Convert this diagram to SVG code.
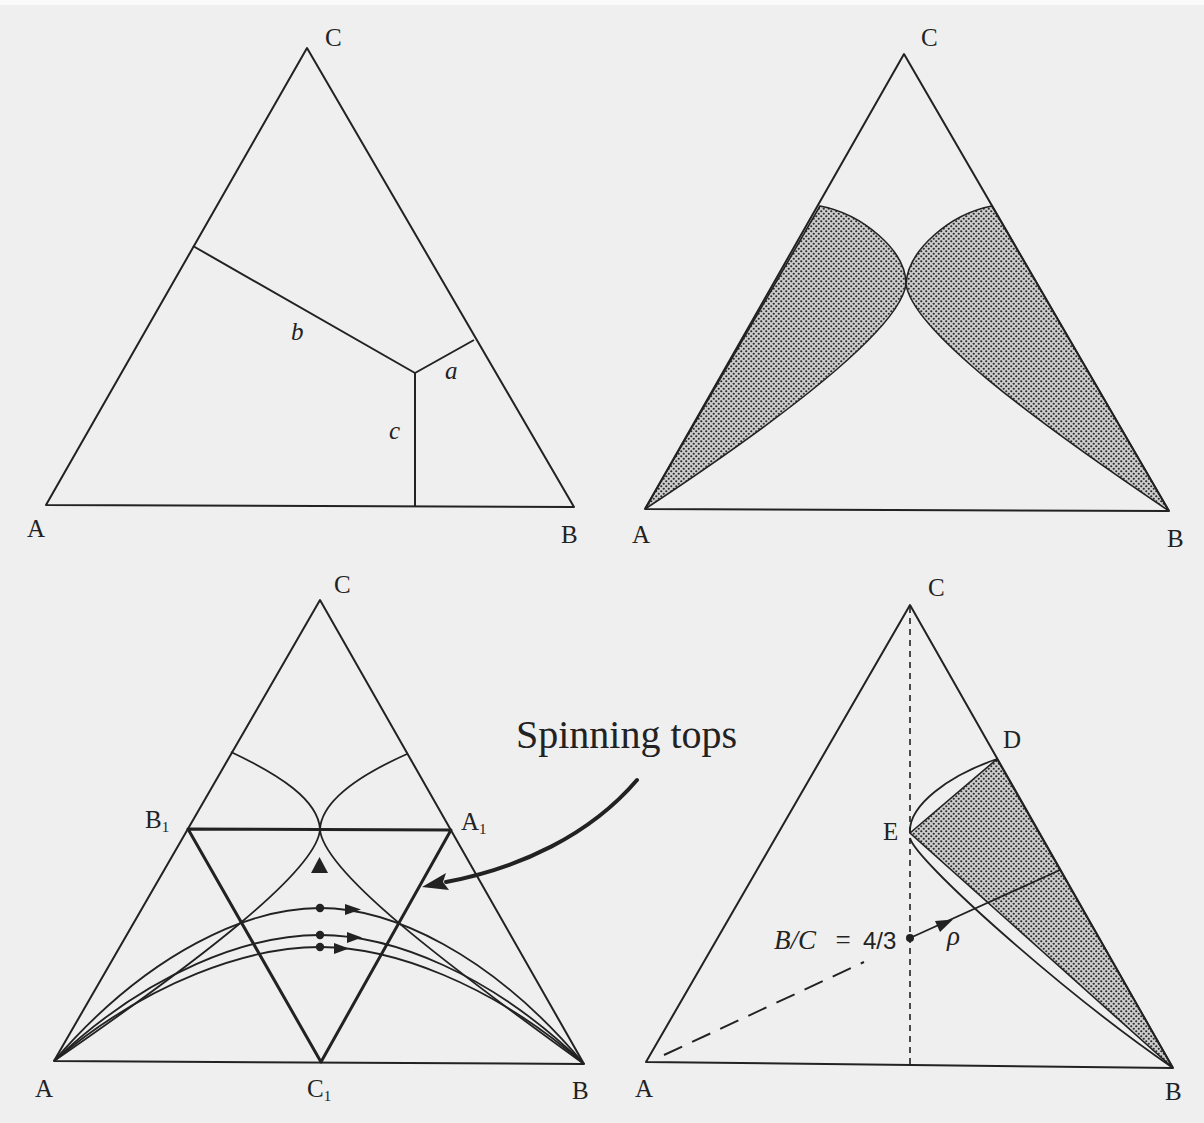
<svg xmlns="http://www.w3.org/2000/svg" width="1204" height="1123" viewBox="0 0 1204 1123">
<style>
.edge{fill:none;stroke:#222;stroke-width:2;stroke-linejoin:round}
.thick{fill:none;stroke:#222;stroke-width:3;stroke-linejoin:round}
.crv{fill:none;stroke:#222;stroke-width:1.8}
.lbl{font-family:"Liberation Serif","Times New Roman",serif;font-size:25px;fill:#222}
.it{font-style:italic}
.sub{font-size:15px}
.shade{fill:url(#dots);stroke:#222;stroke-width:1.6}
.solid{fill:#222;stroke:none}
</style>
<defs>
<pattern id="dots" width="5" height="5" patternUnits="userSpaceOnUse">
<rect width="5" height="5" fill="#cdcdcd"/>
<circle cx="1.25" cy="1.25" r="1.1" fill="#2a2a2a"/>
<circle cx="3.75" cy="3.75" r="1.1" fill="#2a2a2a"/>
</pattern>
</defs>
<rect width="1204" height="1123" fill="#efefef"/>
<rect width="1204" height="5" fill="#fafafa"/>

<!-- Top-left panel -->
<g id="panel-tl">
<polygon class="edge" points="46,505 307,48 574,507"/>
<polyline class="edge" points="193,246 415,373 474,340"/>
<line class="edge" x1="415" y1="373" x2="415" y2="506"/>
<text class="lbl" x="325" y="46">C</text>
<text class="lbl" x="27" y="537">A</text>
<text class="lbl" x="561" y="543">B</text>
<text class="lbl it" x="291" y="340">b</text>
<text class="lbl it" x="445" y="379">a</text>
<text class="lbl it" x="389" y="439">c</text>
</g>

<!-- Top-right panel -->
<g id="panel-tr">
<path class="shade" d="M820,206 C862,214 906,250 906,284 C900,330 780,420 645,509 Z"/>
<path class="shade" d="M992,206 C950,214 908,250 906,284 C912,330 1034,420 1169,511 Z"/>
<polygon class="edge" points="645,509 904,54 1169,511"/>
<text class="lbl" x="921" y="46">C</text>
<text class="lbl" x="632" y="543">A</text>
<text class="lbl" x="1167" y="547">B</text>
</g>

<!-- Bottom-left panel -->
<g id="panel-bl">
<polygon class="edge" points="54,1061 320,600 584,1064"/>
<polygon class="thick" points="188,829 451,830 321,1062"/>
<path class="crv" d="M231,752 C280,775 318,800 320,829 C318,870 200,960 54,1061"/>
<path class="crv" d="M407,754 C360,775 322,800 320,829 C322,870 440,960 584,1064"/>
<path class="crv" d="M54,1061 C150,950 250,908 320,908 C390,908 490,952 584,1064"/>
<path class="crv" d="M54,1061 C150,970 250,935 320,935 C390,935 490,972 584,1064"/>
<path class="crv" d="M54,1061 C150,980 250,947 320,947 C390,947 490,982 584,1064"/>
<polygon class="solid" points="311,873 328,873 319.5,857"/>
<circle class="solid" cx="320" cy="908" r="4.2"/>
<circle class="solid" cx="320" cy="935" r="4.2"/>
<circle class="solid" cx="320" cy="947" r="4.2"/>
<polygon class="solid" points="345,904 361,909.5 345,915"/>
<polygon class="solid" points="347,932 362,937.5 347,943"/>
<polygon class="solid" points="334,943 349,948.5 334,954"/>
<text class="lbl" x="334" y="593">C</text>
<text class="lbl" x="145" y="828">B<tspan class="sub" dy="4">1</tspan></text>
<text class="lbl" x="461" y="830">A<tspan class="sub" dy="4">1</tspan></text>
<text class="lbl" x="35" y="1097">A</text>
<text class="lbl" x="307" y="1097">C<tspan class="sub" dy="4">1</tspan></text>
<text class="lbl" x="572" y="1099">B</text>
</g>

<!-- Spinning tops callout -->
<g id="callout">
<text x="516" y="748" style="font-family:'Liberation Serif','Times New Roman',serif;font-size:40px;fill:#222">Spinning tops</text>
<path d="M637,780 C590,835 520,868 446,882" fill="none" stroke="#222" stroke-width="4" stroke-linecap="round"/>
<polygon class="solid" points="422,887 449,890 443,882 446,873"/>
</g>

<!-- Bottom-right panel -->
<g id="panel-br">
<polygon class="shade" points="910,833 997,759 1173,1068"/>
<polygon class="edge" points="646,1062 910,605 1173,1068"/>
<line x1="910" y1="607" x2="910" y2="1064" stroke="#222" stroke-width="1.6" stroke-dasharray="6,5"/>
<path class="crv" d="M910,833 C908,805 950,775 997,759"/>
<path class="crv" d="M910,838 C915,860 1060,990 1173,1068"/>
<line class="crv" x1="910" y1="938" x2="1060" y2="870"/>
<polygon class="solid" points="953,919.5 935,921 940,932"/>
<circle class="solid" cx="910" cy="938" r="4"/>
<line x1="664" y1="1055" x2="864" y2="962" stroke="#222" stroke-width="2" stroke-dasharray="20,11"/>
<text class="lbl it" x="774" y="949" style="font-size:27px">B/C</text>
<text class="lbl" x="843" y="949" text-anchor="middle" style="font-size:27px">=</text>
<text x="863" y="949" style="font-family:'Liberation Sans',Arial,sans-serif;font-size:24px;fill:#222">4/3</text>
<text class="lbl it" x="947" y="945" style="font-size:27px">ρ</text>
<text class="lbl" x="928" y="596">C</text>
<text class="lbl" x="1003" y="748">D</text>
<text class="lbl" x="883" y="840">E</text>
<text class="lbl" x="635" y="1097">A</text>
<text class="lbl" x="1165" y="1100">B</text>
</g>
</svg>
